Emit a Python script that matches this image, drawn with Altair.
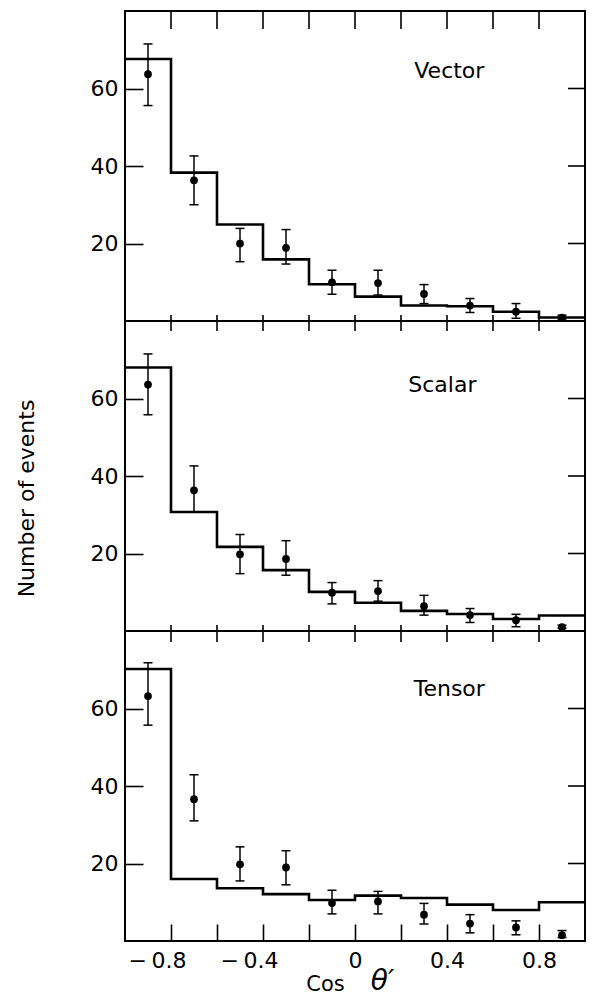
import altair as alt
import pandas as pd

# ---- data ----
bin_lo = [-1.0, -0.8, -0.6, -0.4, -0.2, 0.0, 0.2, 0.4, 0.6, 0.8]
centers = [-0.9, -0.7, -0.5, -0.3, -0.1, 0.1, 0.3, 0.5, 0.7, 0.9]
x_ticks = [-0.8, -0.6, -0.4, -0.2, 0.0, 0.2, 0.4, 0.6, 0.8]
y_ticks = [20, 40, 60]

vector_hist = [67.6, 38.3, 24.9, 15.9, 9.5, 6.3, 4.0, 3.8, 2.4, 0.9]
scalar_hist = [68.0, 30.7, 21.7, 15.7, 10.1, 7.3, 5.2, 4.4, 3.1, 4.0]
tensor_hist = [70.2, 16.0, 13.6, 12.1, 10.6, 11.7, 11.1, 9.4, 8.0, 10.0]

vector_pts = [63.7, 36.3, 20.0, 18.9, 10.0, 9.8, 7.0, 4.0, 2.4, 0.9]
vector_lo = [55.6, 30.0, 15.3, 14.7, 6.9, 6.7, 4.5, 2.2, 0.7, 0.5]
vector_hi = [71.5, 42.6, 23.9, 23.6, 13.1, 13.1, 9.4, 5.8, 4.5, 1.5]

scalar_pts = [63.6, 36.3, 19.8, 18.6, 9.9, 10.3, 6.4, 4.1, 2.8, 1.0]
scalar_lo = [55.8, 30.7, 14.8, 14.4, 7.0, 7.7, 4.1, 2.2, 1.1, 0.7]
scalar_hi = [71.5, 42.6, 24.9, 23.3, 12.5, 13.0, 9.2, 5.8, 4.3, 1.5]

tensor_pts = [63.2, 36.6, 19.8, 19.0, 9.8, 10.2, 6.8, 4.5, 3.5, 1.5]
tensor_lo = [55.7, 31.0, 15.5, 14.5, 7.0, 7.0, 4.4, 2.1, 1.6, 0.9]
tensor_hi = [71.8, 42.9, 24.3, 23.3, 13.1, 12.8, 9.7, 6.8, 5.2, 2.7]

labels = ["Vector", "Scalar", "Tensor"]
label_x = [0.41, 0.38, 0.41]
label_y = [64.4, 63.5, 65.1]

FONT = "DejaVu Sans"
W, H = 460, 310

xscale = alt.Scale(domain=[-1, 1], nice=False, zero=False)
yscale = alt.Scale(domain=[0, 80], nice=False)

xt_df = pd.DataFrame({"t": x_ticks})
yt_df = pd.DataFrame({"t": y_ticks})


def panel(i, hist, pts, lo, hi, top_len, bottom_len, last, ytitle):
    hist_df = pd.DataFrame({"x": bin_lo + [1.0], "y": hist + [hist[-1]]})
    pts_df = pd.DataFrame({"x": centers, "y": pts, "lo": lo, "hi": hi})
    one = pd.DataFrame({"k": [0]})

    if last:
        bottom_axis = alt.Axis(
            orient="bottom", values=x_ticks, tickSize=alt.ExprRef("-17"),
            tickColor="black", tickWidth=1.6, domain=False, grid=False,
            labels=True, labelFont=FONT, labelFontSize=22, labelColor="black",
            labelBaseline="alphabetic", labelPadding=43, labelFlush=False,
            labelExpr="abs(round(datum.value*10)) % 4 == 0 ? (datum.value < -0.01 ? '\u2212\u2009' : '') + format(abs(datum.value), '.1~f') : ''",
            labelOffset={"condition": {"test": "datum.value < -0.01", "value": -14}, "value": 0},
            title="Cos", titleFont=FONT, titleFontSize=21, titleFontWeight="normal",
            titleColor="black", titleX=200, titleY=49, titleBaseline="alphabetic",
            titleAlign="center", minExtent=0)
    else:
        bottom_axis = None

    left_kw = dict(orient="left", values=y_ticks, tickSize=alt.ExprRef("-18"),
                   tickColor="black", tickWidth=1.6, domain=False, grid=False,
                   labels=True, labelFont=FONT, labelFontSize=22, labelColor="black",
                   labelPadding=25, labelFlush=False, minExtent=0, title=None)
    if ytitle:
        left_kw.update(title="Number of events", titleFont=FONT, titleFontSize=22,
                       titleFontWeight="normal", titleColor="black", titleX=-99,
                       titleY=177, titleBaseline="middle", titleAlign="center",
                       titleAngle=270)
    left_axis = alt.Axis(**left_kw)

    line = alt.Chart(hist_df).mark_line(
        interpolate="step-after", color="black", strokeWidth=2.6, strokeJoin="miter"
    ).encode(
        x=alt.X("x:Q", scale=xscale, axis=bottom_axis),
        y=alt.Y("y:Q", scale=yscale, axis=left_axis),
    )
    dots = alt.Chart(pts_df).mark_circle(size=60, color="black", opacity=1).encode(
        x=alt.X("x:Q", scale=xscale, axis=None),
        y=alt.Y("y:Q", scale=yscale, axis=None),
    )
    bars = alt.Chart(pts_df).mark_rule(color="black", strokeWidth=1.5).encode(
        x=alt.X("x:Q", scale=xscale, axis=None),
        y=alt.Y("lo:Q", scale=yscale, axis=None),
        y2="hi:Q",
    )
    cap_lo = alt.Chart(pts_df).mark_tick(
        orient="horizontal", size=9, thickness=1.5, color="black", opacity=1
    ).encode(x=alt.X("x:Q", scale=xscale, axis=None),
             y=alt.Y("lo:Q", scale=yscale, axis=None))
    cap_hi = alt.Chart(pts_df).mark_tick(
        orient="horizontal", size=9, thickness=1.5, color="black", opacity=1
    ).encode(x=alt.X("x:Q", scale=xscale, axis=None),
             y=alt.Y("hi:Q", scale=yscale, axis=None))
    # inward tick marks on the top, right (and bottom for upper panels) frame edges
    top_ticks = alt.Chart(xt_df).mark_rule(color="black", strokeWidth=1.6).encode(
        x=alt.X("t:Q", scale=xscale, axis=None),
        y=alt.value(0), y2=alt.value(top_len))
    right_ticks = alt.Chart(yt_df).mark_rule(color="black", strokeWidth=1.6).encode(
        y=alt.Y("t:Q", scale=yscale, axis=None),
        x=alt.value(W - 17), x2=alt.value(W))
    name = alt.Chart(one).mark_text(
        text=labels[i], font=FONT, fontSize=22, color="black", align="center",
        baseline="middle"
    ).encode(x=alt.XDatum(label_x[i], scale=xscale, axis=None),
             y=alt.YDatum(label_y[i], scale=yscale, axis=None))
    layers = [line, dots, bars, cap_lo, cap_hi, top_ticks, right_ticks, name]
    if last:
        theta = alt.Chart(one).mark_text(
            text="\u03b8\u2032", font=FONT, fontSize=28, fontStyle="italic",
            color="black", align="center", baseline="alphabetic"
        ).encode(x=alt.XDatum(0.12, scale=xscale, axis=None), y=alt.value(H + 49))
        layers.append(theta)
    else:
        bottom_ticks = alt.Chart(xt_df).mark_rule(color="black", strokeWidth=1.6).encode(
            x=alt.X("t:Q", scale=xscale, axis=None),
            y=alt.value(H - bottom_len), y2=alt.value(H))
        layers.append(bottom_ticks)
    return alt.layer(*layers).resolve_axis(x="independent", y="independent").properties(
        width=W, height=H)


p1 = panel(0, vector_hist, vector_pts, vector_lo, vector_hi, 18, 6, False, False)
p2 = panel(1, scalar_hist, scalar_pts, scalar_lo, scalar_hi, 10, 6, False, True)
p3 = panel(2, tensor_hist, tensor_pts, tensor_lo, tensor_hi, 11, 17, True, False)

chart = alt.vconcat(p1, p2, p3, spacing=0, bounds="flush").properties(
    padding={"left": 6, "top": 1, "right": 0, "bottom": 0}
).configure(background="white").configure_view(
    stroke="black", strokeWidth=2, fill="white"
)

chart.save("out.html", embed_options={"renderer": "svg", "actions": False})
